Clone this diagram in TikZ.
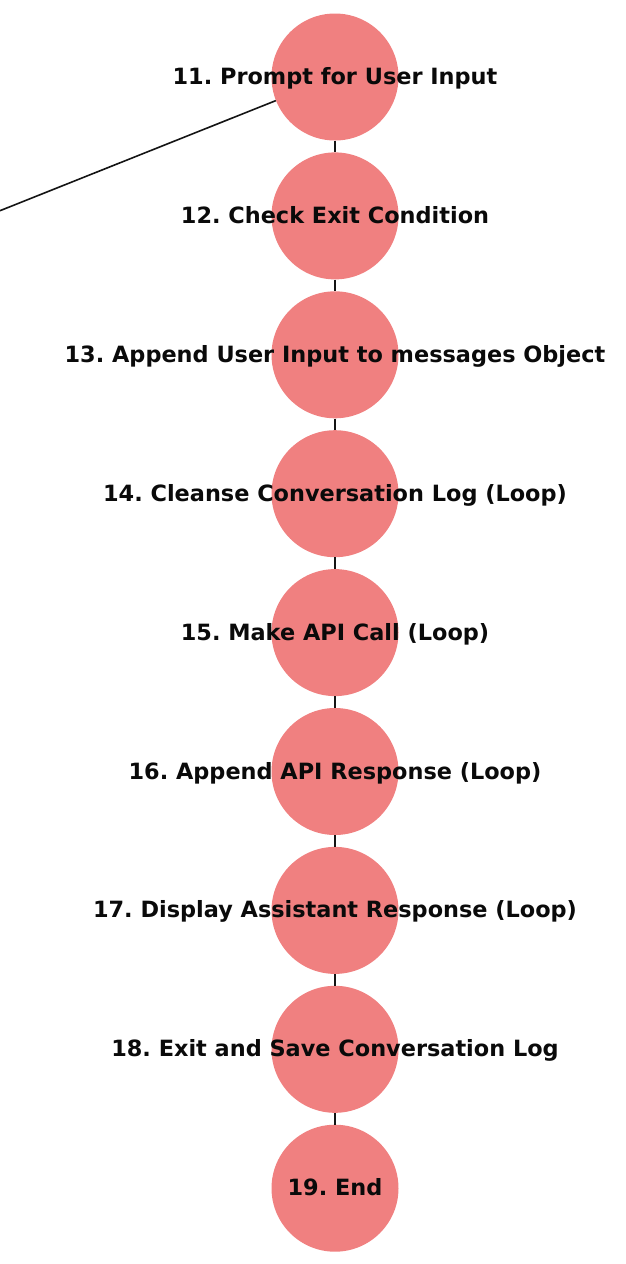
\documentclass[tikz,border=0pt]{standalone}
\usepackage{fontspec}
\setmainfont{DejaVu Sans}
\frenchspacing
\definecolor{nodefill}{RGB}{240,128,128}
\definecolor{edgecol}{RGB}{20,20,20}
\definecolor{txtcol}{RGB}{10,10,10}
\tikzset{
  stepnode/.style={circle, fill=nodefill, draw=none, minimum size=127pt, inner sep=0pt},
  steptext/.style={text=txtcol, font=\fontsize{22.4}{26}\selectfont\bfseries, inner sep=0pt},
  link/.style={draw=edgecol, line width=1.6pt}
}
\begin{document}
\begin{tikzpicture}[x=1pt,y=-1pt]
\useasboundingbox (0,0) rectangle (626,1264);
\foreach \i [count=\k from 0] in {11,12,13,14,15,16,17,18,19}{
  \node[stepnode] (c\i) at (335,{77+138.9*\k}) {};
}
\coordinate (src) at (0,210.7);
\draw[link] (src) -- (c11);
\foreach \a/\b in {11/12,12/13,13/14,14/15,15/16,16/17,17/18,18/19}{
  \draw[link] (c\a) -- (c\b);
}
\foreach \i/\t in {11/{11. Prompt for User Input},12/{12. Check Exit Condition},13/{13. Append User Input to messages Object},14/{14. Cleanse Conversation Log (Loop)},15/{15. Make API Call (Loop)},16/{16. Append API Response (Loop)},17/{17. Display Assistant Response (Loop)},18/{18. Exit and Save Conversation Log},19/{19. End}}{
  \node[steptext, anchor=base] (t\i) at ([yshift=-7.5pt]c\i.center) {\t};
}
\end{tikzpicture}
\end{document}
